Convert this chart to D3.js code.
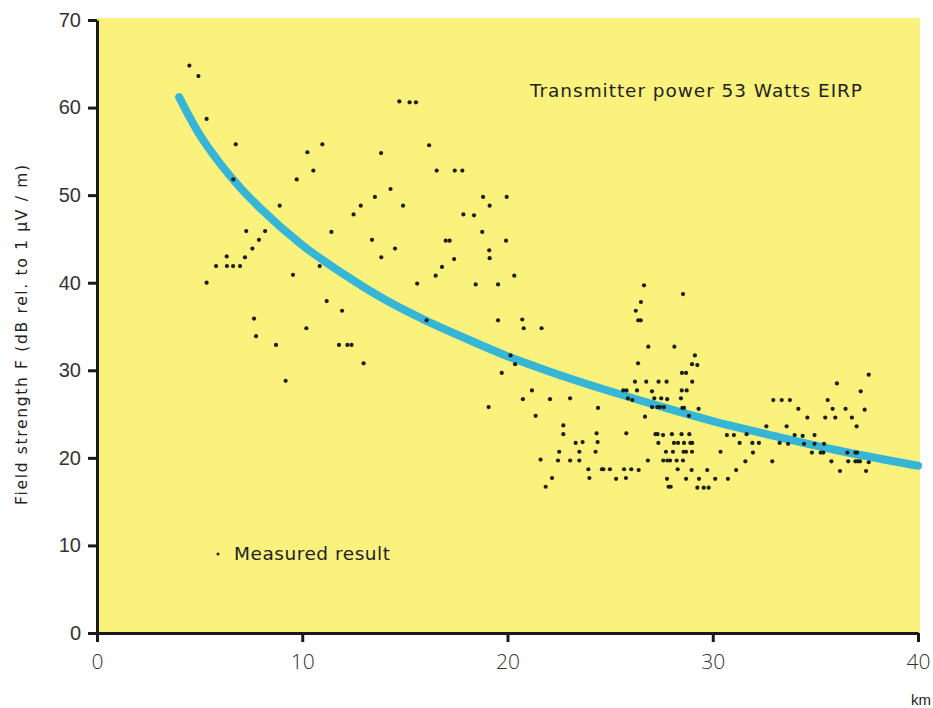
<!DOCTYPE html>
<html lang="en">
<head>
<meta charset="UTF-8">
<title>Field strength vs distance</title>
<script src="https://d3js.org/d3.v7.min.js"></script>
<style>
  html, body { margin: 0; padding: 0; background: #ffffff; }
  body { width: 933px; height: 708px; overflow: hidden; }
  text { font-family: "DejaVu Sans", "Liberation Sans", sans-serif; fill: #222; }
  .tick-y text { font-size: 20px; fill: #333; font-family: "Liberation Sans", Arial, sans-serif; }
  .tick-x text { font-size: 21px; fill: #333; font-family: "Open Sans", "Liberation Sans", sans-serif; font-weight: 300; }
</style>
</head>
<body>
<div id="chart"></div>
<script>
// axis ticks
const xTicks = [0, 10, 20, 30, 40];
const yTicks = [0, 10, 20, 30, 40, 50, 60, 70];

// fitted curve (km, dB)
const curveKm = [4, 5, 6, 7, 8, 10, 12, 14, 16, 18, 20, 22, 25, 28, 30, 33, 36, 40];
const curveF  = [61.2, 56.9, 53.6, 50.8, 48.4, 44.3, 41.0, 38.1, 35.7, 33.6, 31.6, 29.9, 27.6, 25.5, 24.2, 22.5, 20.9, 19.1];

// measured results (km, dB)
const measured = [
  [4.5,64.8],[4.94,63.6],[5.34,58.7],[6.76,55.8],[6.64,51.8],[8.9,48.8],[7.27,45.9],[8.19,45.9],[7.89,44.9],[7.57,43.9],
  [11.42,45.8],[6.32,43.0],[7.21,42.9],[5.8,41.9],[6.33,41.9],[6.63,41.9],[6.97,41.9],[5.34,40.0],[9.55,40.9],[10.85,41.9],
  [11.19,37.9],[11.94,36.8],[7.65,35.9],[7.75,33.9],[10.2,34.8],[8.72,32.9],[11.79,32.9],[12.2,32.9],[12.4,32.9],[12.99,30.8],[9.19,28.8],
  [14.73,60.7],[15.23,60.6],[15.54,60.6],[10.98,55.8],[10.25,54.9],[13.84,54.8],[16.18,55.7],[10.54,52.8],[9.73,51.8],[16.55,52.8],
  [17.43,52.8],[17.8,52.8],[14.3,50.7],[13.54,49.8],[12.85,48.8],[14.91,48.8],[12.5,47.8],[18.81,49.8],[19.13,48.8],[17.85,47.8],
  [18.37,47.7],[18.77,45.8],[13.4,44.9],[14.52,43.9],[16.99,44.8],[17.18,44.8],[19.11,43.7],[13.85,42.9],[17.4,42.7],[19.13,42.8],
  [16.81,41.8],[16.5,40.8],[19.96,49.8],
  [19.93,44.8],[15.6,39.9],[18.45,39.8],[19.54,39.8],[20.33,40.8],[16.06,35.7],[19.54,35.7],[20.72,35.8],[20.79,34.8],[21.66,34.8],
  [20.15,31.7],[20.37,30.7],[19.72,29.7],[21.19,27.7],[20.75,26.7],[22.07,26.7],[23.05,26.8],[24.41,25.7],[19.08,25.8],[21.37,24.8],
  [22.72,23.7],[22.72,22.7],[24.34,22.8],[23.32,21.7],[23.66,21.8],[24.39,21.8],[22.52,20.7],[23.5,20.7],[24.29,20.7],[21.61,19.8],
  [22.46,19.7],[23.05,19.7],[23.5,19.7],[23.94,18.7],[22.17,17.7],[23.99,17.7],[21.86,16.7],
  [26.65,39.7],[28.55,38.7],[26.5,37.8],[26.25,36.8],[26.37,35.7],[26.49,35.7],[26.86,32.7],[28.13,32.7],[29.13,31.7],[28.99,30.7],
  [29.25,30.6],[26.36,30.8],[28.5,29.7],[28.7,29.7],[26.21,28.7],[26.76,28.7],[27.36,28.7],[27.75,28.7],[29.0,28.7],[25.64,27.7],
  [25.8,27.7],[26.31,27.7],[27.04,27.6],[28.49,27.7],[28.73,27.7],[25.87,26.8],[26.08,26.6],[27.15,26.8],[27.49,26.8],[27.78,26.7],
  [28.45,26.8],[27.04,25.8],[27.3,25.8],[27.43,25.8],[27.62,25.8],[28.52,25.7],[28.6,25.7],[29.31,25.6],[26.7,24.7],[28.84,24.8],
  [25.79,22.8],[27.21,22.7],[27.31,22.7],[27.58,22.6],[28.01,22.7],[28.48,22.7],[28.86,22.7],[30.69,22.6],[31.03,22.6],[31.65,22.7],
  [27.35,21.7],[28.11,21.7],[28.31,21.7],[28.6,21.7],[28.91,21.7],[29.0,21.7],[31.31,21.7],[31.93,21.7],[32.25,21.7],[27.72,20.7],
  [28.06,20.7],[28.58,20.7],[28.7,20.7],[28.99,20.7],[30.38,20.7],[31.96,20.6],[26.84,19.7],[27.59,19.7],[27.79,19.7],[27.92,19.7],
  [28.24,19.7],[28.55,19.7],[31.59,19.6],[24.6,18.7],[24.67,18.7],[24.99,18.7],[25.68,18.7],[26.03,18.7],[26.39,18.6],[28.29,18.7],
  [28.97,18.6],[29.73,18.6],[31.14,18.6],[25.29,17.6],[25.77,17.7],[27.77,17.6],[28.7,17.6],[29.33,17.6],[30.12,17.6],[30.74,17.6],
  [27.85,16.7],[27.95,16.7],[29.25,16.6],[29.56,16.6],[29.8,16.6],
  [37.6,29.5],[36.05,28.5],[37.21,27.6],[32.95,26.6],[33.36,26.6],[33.76,26.6],[35.6,26.6],[34.17,25.6],[35.84,25.6],[36.47,25.6],
  [37.4,25.5],[34.61,24.6],[35.48,24.6],[35.97,24.6],[36.78,24.6],[32.61,23.6],[33.6,23.6],[37.01,23.6],[33.99,22.6],[34.38,22.5],
  [34.96,22.6],[33.26,21.7],[33.67,21.6],[34.45,21.6],[34.96,21.6],[35.42,21.6],[34.83,20.6],[35.26,20.6],[35.39,20.6],[36.56,20.6],
  [36.95,20.6],[37.03,20.6],[32.9,19.6],[35.78,19.6],[36.6,19.6],[36.95,19.6],[37.06,19.6],[37.17,19.6],[37.6,19.5],[36.2,18.5],[37.47,18.5]
];

const W = 933, H = 708;
const margin = { top: 20, right: 15, bottom: 75, left: 97 };
const width = W - margin.left - margin.right;   // 821
const height = H - margin.top - margin.bottom;  // 613

const svg = d3.select("#chart").append("svg")
  .attr("width", W)
  .attr("height", H);

const g = svg.append("g")
  .attr("transform", `translate(${margin.left},${margin.top})`);

const x = d3.scaleLinear().domain([0, 40]).range([0, width]);
const y = d3.scaleLinear().domain([0, 70]).range([height, 0]);

// yellow panel
g.append("rect")
  .attr("x", 0).attr("y", -2)
  .attr("width", width + 2).attr("height", height + 2)
  .attr("fill", "#faf27c");

// curve
const line = d3.line()
  .x((d, i) => x(curveKm[i]))
  .y(d => y(d))
  .curve(d3.curveMonotoneX);

g.append("path")
  .datum(curveF)
  .attr("d", line)
  .attr("fill", "none")
  .attr("stroke", "#36b6d6")
  .attr("stroke-width", 8)
  .attr("stroke-linecap", "round");

// dots
g.selectAll(".dot")
  .data(measured)
  .enter().append("circle")
  .attr("class", "dot")
  .attr("cx", d => x(d[0]))
  .attr("cy", d => y(d[1]))
  .attr("r", 2.1)
  .attr("fill", "#1c1c1c");

// y axis
const yAxis = g.append("g")
  .attr("class", "tick-y")
  .call(d3.axisLeft(y).tickValues(yTicks).tickSize(9).tickPadding(7).tickSizeOuter(0));
yAxis.select(".domain").attr("stroke", "#1a1a1a").attr("stroke-width", 3);
yAxis.selectAll(".tick line").attr("stroke", "#1a1a1a").attr("stroke-width", 3);

// x axis
const xAxis = g.append("g")
  .attr("class", "tick-x")
  .attr("transform", `translate(0,${height})`)
  .call(d3.axisBottom(x).tickValues(xTicks).tickSize(9).tickPadding(12).tickSizeOuter(0));
xAxis.select(".domain").attr("stroke", "#1a1a1a").attr("stroke-width", 3);
xAxis.selectAll(".tick line").attr("stroke", "#1a1a1a").attr("stroke-width", 3);

// y axis title
g.append("text")
  .attr("transform", `translate(${22 - margin.left},${335 - margin.top}) rotate(-90)`)
  .attr("text-anchor", "middle")
  .attr("dominant-baseline", "middle")
  .attr("font-size", 15.5)
  .attr("fill", "#333")
  .attr("textLength", 340)
  .attr("lengthAdjust", "spacing")
  .text("Field strength F (dB rel. to 1 \u03bcV / m)");

// km unit
g.append("text")
  .attr("x", width + 13)
  .attr("y", height + 72)
  .attr("text-anchor", "end")
  .attr("font-size", 15)
  .attr("fill", "#333")
  .style("font-family", "'Liberation Sans', Arial, sans-serif")
  .text("km");

// annotation
g.append("text")
  .attr("x", 433)
  .attr("y", 77)
  .attr("font-size", 18.5)
  .attr("textLength", 332)
  .attr("lengthAdjust", "spacing")
  .text("Transmitter power 53 Watts EIRP");

// legend
g.append("circle")
  .attr("cx", 218 - margin.left)
  .attr("cy", 554 - margin.top)
  .attr("r", 1.5)
  .attr("fill", "#1c1c1c");
g.append("text")
  .attr("x", 234 - margin.left)
  .attr("y", 560 - margin.top)
  .attr("font-size", 18.5)
  .attr("textLength", 156)
  .attr("lengthAdjust", "spacing")
  .text("Measured result");
</script>
</body>
</html>
